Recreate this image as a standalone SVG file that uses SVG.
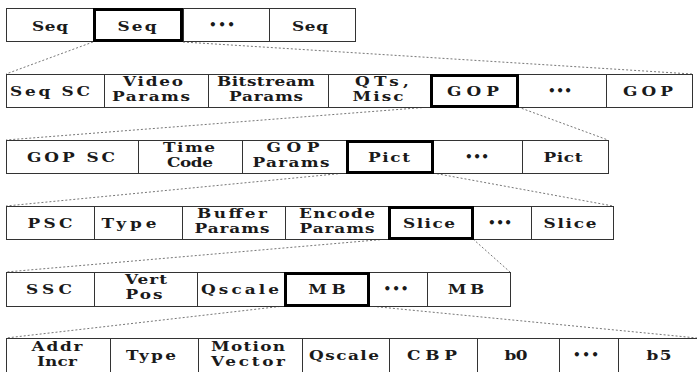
<svg xmlns="http://www.w3.org/2000/svg" width="697" height="372" viewBox="0 0 697 372">
<style>
.box{fill:#fff;stroke:#333;stroke-width:1}
.sel{fill:#fff;stroke:#000;stroke-width:3}
.t{font-family:"DejaVu Serif",serif;font-weight:bold;font-size:13px;text-anchor:middle;fill:#1a1a1a}
.d{font-family:"DejaVu Sans",sans-serif;font-weight:bold;font-size:12px;text-anchor:middle;fill:#1a1a1a}
.c{stroke:#777;stroke-width:1;stroke-dasharray:2,2;fill:none}
</style>
<rect width="697" height="372" fill="#fff"/>
<g id="connectors">
<line class="c" x1="93" y1="42" x2="6" y2="74"/>
<line class="c" x1="183" y1="42" x2="692" y2="74"/>
<line class="c" x1="430" y1="107" x2="6" y2="140"/>
<line class="c" x1="518" y1="107" x2="608" y2="140"/>
<line class="c" x1="346" y1="173" x2="6" y2="206"/>
<line class="c" x1="433" y1="173" x2="613" y2="206"/>
<line class="c" x1="388" y1="239" x2="6" y2="272"/>
<line class="c" x1="473" y1="239" x2="510" y2="272"/>
<line class="c" x1="284" y1="306" x2="6" y2="338"/>
<line class="c" x1="369" y1="306" x2="697" y2="338"/>
</g>
<!-- Row 1 -->
<g id="r1-seq1"><rect class="box" x="6.5" y="8.5" width="87" height="33"/><text class="t" transform="translate(50 30.5) scale(1.3 1)" textLength="27.7">Seq</text></g>
<g id="r1-dots"><rect class="box" x="183.5" y="8.5" width="86" height="33"/><text class="d" x="222" y="29" textLength="26">•••</text></g>
<g id="r1-seq3"><rect class="box" x="269.5" y="8.5" width="86" height="33"/><text class="t" transform="translate(310 30.5) scale(1.3 1)" textLength="27.7">Seq</text></g>
<g id="r1-seq2"><rect class="sel" x="94.5" y="9.5" width="87" height="31"/><text class="t" transform="translate(137 30.5) scale(1.3 1)" textLength="30">Seq</text></g>
<!-- Row 2 -->
<g id="r2-seqsc"><rect class="box" x="6.5" y="74.5" width="98" height="33"/><text class="t" transform="translate(50 96) scale(1.3 1)" textLength="61.5">Seq SC</text></g>
<g id="r2-video"><rect class="box" x="104.5" y="74.5" width="104" height="33"/><text class="t" transform="translate(153 86) scale(1.3 1)" textLength="46.2">Video</text><text class="t" transform="translate(151 101) scale(1.3 1)" textLength="60">Params</text></g>
<g id="r2-bitstream"><rect class="box" x="208.5" y="74.5" width="120" height="33"/><text class="t" transform="translate(266 86) scale(1.3 1)" textLength="75.4">Bitstream</text><text class="t" transform="translate(266 101) scale(1.3 1)" textLength="56.9">Params</text></g>
<g id="r2-qts"><rect class="box" x="328.5" y="74.5" width="102" height="33"/><text class="t" transform="translate(382 86) scale(1.3 1)" textLength="41.5">QTs,</text><text class="t" transform="translate(378 101) scale(1.3 1)" textLength="39.2">Misc</text></g>
<g id="r2-dots"><rect class="box" x="518.5" y="74.5" width="88" height="33"/><text class="d" x="560" y="95" textLength="24">•••</text></g>
<g id="r2-gop2"><rect class="box" x="606.5" y="74.5" width="86" height="33"/><text class="t" transform="translate(648 96) scale(1.3 1)" textLength="38.5">GOP</text></g>
<g id="r2-gop1"><rect class="sel" x="431.5" y="75.5" width="86" height="31"/><text class="t" transform="translate(473 96) scale(1.3 1)" textLength="40">GOP</text></g>
<!-- Row 3 -->
<g id="r3-gopsc"><rect class="box" x="6.5" y="140.5" width="132" height="33"/><text class="t" transform="translate(71 162) scale(1.3 1)" textLength="67.7">GOP SC</text></g>
<g id="r3-time"><rect class="box" x="138.5" y="140.5" width="104" height="33"/><text class="t" transform="translate(189 152) scale(1.3 1)" textLength="40">Time</text><text class="t" transform="translate(190 167) scale(1.3 1)" textLength="35.4">Code</text></g>
<g id="r3-gopp"><rect class="box" x="242.5" y="140.5" width="104" height="33"/><text class="t" transform="translate(293 152) scale(1.3 1)" textLength="40.8">GOP</text><text class="t" transform="translate(291 167) scale(1.3 1)" textLength="59.2">Params</text></g>
<g id="r3-dots"><rect class="box" x="433.5" y="140.5" width="89" height="33"/><text class="d" x="477" y="161" textLength="24">•••</text></g>
<g id="r3-pict2"><rect class="box" x="522.5" y="140.5" width="86" height="33"/><text class="t" transform="translate(563 162) scale(1.3 1)" textLength="30">Pict</text></g>
<g id="r3-pict1"><rect class="sel" x="347.5" y="141.5" width="85" height="31"/><text class="t" transform="translate(389 162) scale(1.3 1)" textLength="32.3">Pict</text></g>
<!-- Row 4 -->
<g id="r4-psc"><rect class="box" x="6.5" y="206.5" width="88" height="33"/><text class="t" transform="translate(50 228) scale(1.3 1)" textLength="34.6">PSC</text></g>
<g id="r4-type"><rect class="box" x="94.5" y="206.5" width="88" height="33"/><text class="t" transform="translate(129 228) scale(1.3 1)" textLength="42.3">Type</text></g>
<g id="r4-buffer"><rect class="box" x="182.5" y="206.5" width="103" height="33"/><text class="t" transform="translate(232 218) scale(1.3 1)" textLength="53.8">Buffer</text><text class="t" transform="translate(232 233) scale(1.3 1)" textLength="57.7">Params</text></g>
<g id="r4-encode"><rect class="box" x="285.5" y="206.5" width="103" height="33"/><text class="t" transform="translate(337 218) scale(1.3 1)" textLength="58.5">Encode</text><text class="t" transform="translate(337 233) scale(1.3 1)" textLength="57.7">Params</text></g>
<g id="r4-dots"><rect class="box" x="473.5" y="206.5" width="58" height="33"/><text class="d" x="500" y="227" textLength="24">•••</text></g>
<g id="r4-slice2"><rect class="box" x="531.5" y="206.5" width="82" height="33"/><text class="t" transform="translate(570 228) scale(1.3 1)" textLength="40.8">Slice</text></g>
<g id="r4-slice1"><rect class="sel" x="389.5" y="207.5" width="83" height="31"/><text class="t" transform="translate(429 228) scale(1.3 1)" textLength="40">Slice</text></g>
<!-- Row 5 -->
<g id="r5-ssc"><rect class="box" x="6.5" y="272.5" width="88" height="34"/><text class="t" transform="translate(49 294) scale(1.3 1)" textLength="35.4">SSC</text></g>
<g id="r5-vert"><rect class="box" x="94.5" y="272.5" width="103" height="34"/><text class="t" transform="translate(146 284) scale(1.3 1)" textLength="32.3">Vert</text><text class="t" transform="translate(144 299) scale(1.3 1)" textLength="28.5">Pos</text></g>
<g id="r5-qscale"><rect class="box" x="197.5" y="272.5" width="87" height="34"/><text class="t" transform="translate(240 294) scale(1.3 1)" textLength="60">Qscale</text></g>
<g id="r5-dots"><rect class="box" x="369.5" y="272.5" width="58" height="34"/><text class="d" x="396" y="293" textLength="25">•••</text></g>
<g id="r5-mb2"><rect class="box" x="427.5" y="272.5" width="83" height="34"/><text class="t" transform="translate(466 294) scale(1.3 1)" textLength="28">MB</text></g>
<g id="r5-mb1"><rect class="sel" x="285.5" y="273.5" width="83" height="32"/><text class="t" transform="translate(327 294) scale(1.3 1)" textLength="29">MB</text></g>
<!-- Row 6 -->
<g id="r6-addr"><rect class="box" x="6.5" y="338.5" width="104" height="40"/><text class="t" transform="translate(57 351) scale(1.3 1)" textLength="39.2">Addr</text><text class="t" transform="translate(57 366) scale(1.3 1)" textLength="30.8">Incr</text></g>
<g id="r6-type"><rect class="box" x="110.5" y="338.5" width="88" height="40"/><text class="t" transform="translate(151 360) scale(1.3 1)" textLength="38.5">Type</text></g>
<g id="r6-motion"><rect class="box" x="198.5" y="338.5" width="104" height="40"/><text class="t" transform="translate(248 351) scale(1.3 1)" textLength="56.9">Motion</text><text class="t" transform="translate(248 366) scale(1.3 1)" textLength="56.9">Vector</text></g>
<g id="r6-qscale"><rect class="box" x="302.5" y="338.5" width="87" height="40"/><text class="t" transform="translate(344 360) scale(1.3 1)" textLength="53.8">Qscale</text></g>
<g id="r6-cbp"><rect class="box" x="389.5" y="338.5" width="88" height="40"/><text class="t" transform="translate(432 360) scale(1.3 1)" textLength="38.5">CBP</text></g>
<g id="r6-b0"><rect class="box" x="477.5" y="338.5" width="82" height="40"/><text class="t" transform="translate(516 360) scale(1.3 1)" textLength="17.7">b0</text></g>
<g id="r6-dots"><rect class="box" x="559.5" y="338.5" width="59" height="40"/><text class="d" x="586" y="359" textLength="26">•••</text></g>
<g id="r6-b5"><rect class="box" x="618.5" y="338.5" width="90" height="40"/><text class="t" transform="translate(659 360) scale(1.3 1)" textLength="19.2">b5</text></g>
</svg>
